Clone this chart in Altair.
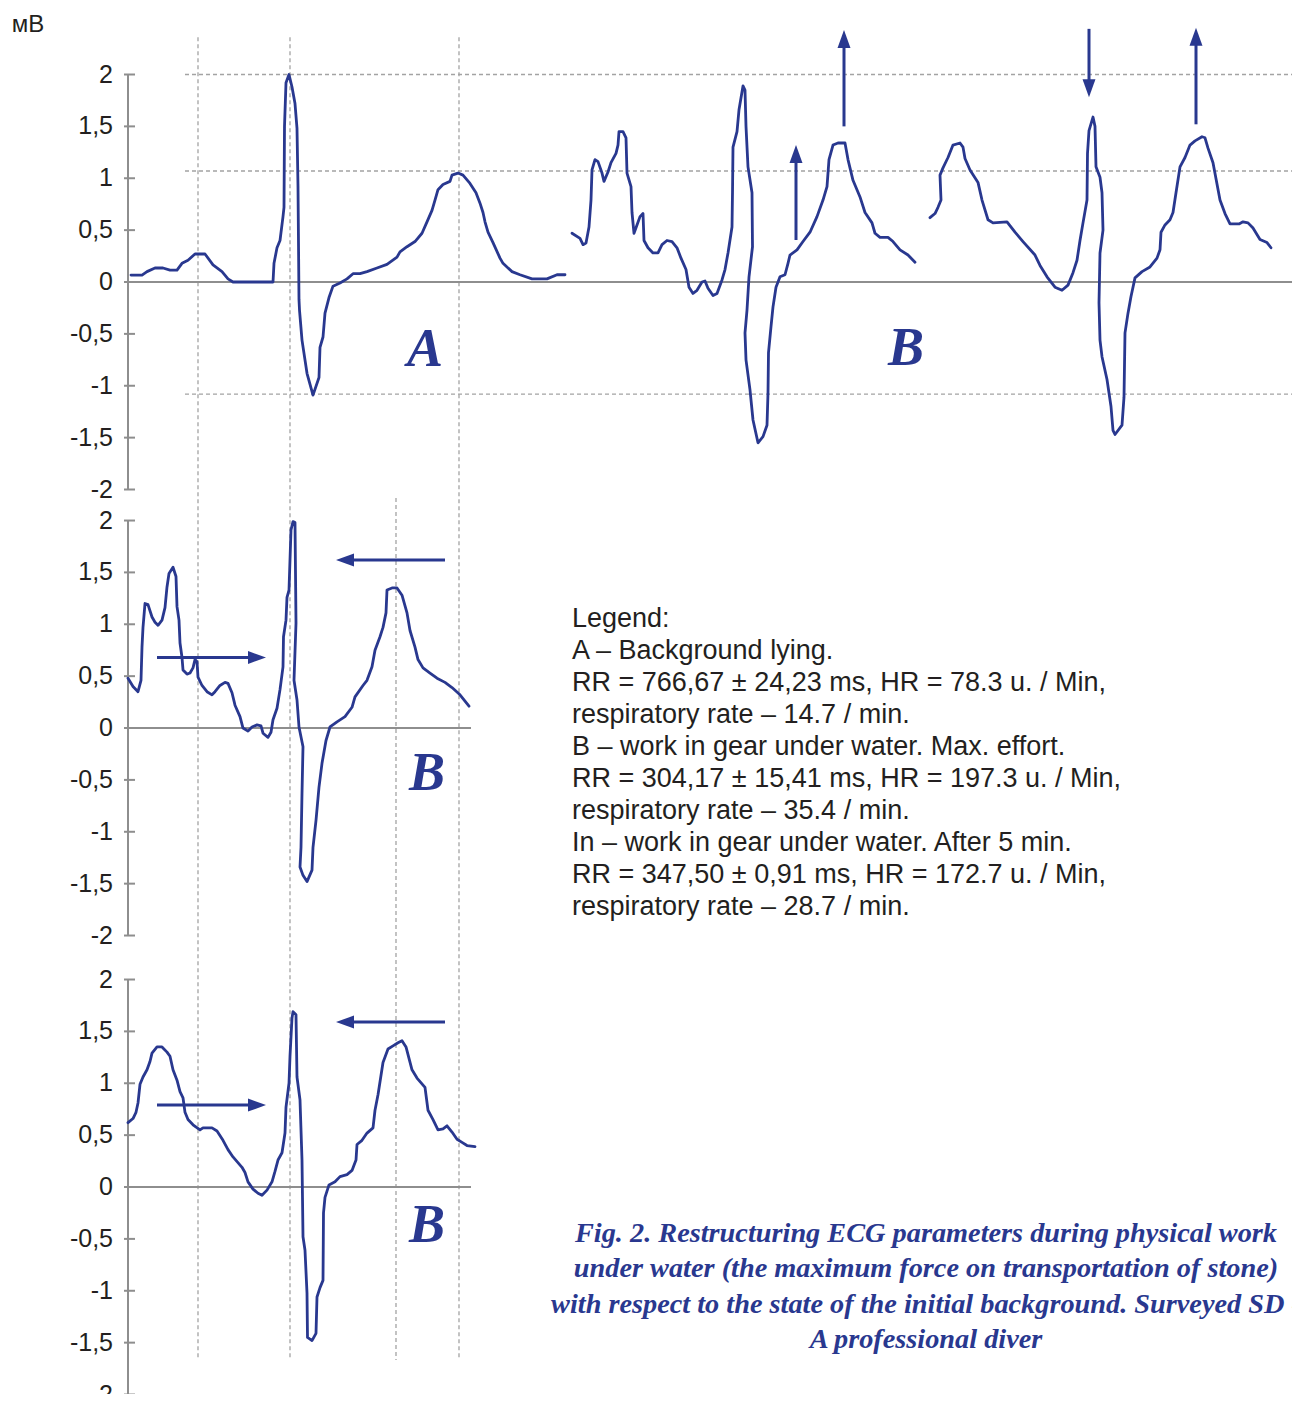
import altair as alt
import pandas as pd

# ---------------- data ----------------
# t = horizontal sample position (arbitrary units), mv = millivolts
A_t = [3, 14, 19, 27, 35, 42, 49, 54, 60, 67, 77, 85, 94, 100, 105, 145, 146, 149, 152, 155, 156,
       156.5, 158, 161, 164, 167, 169, 170, 171, 171.5, 174, 179, 185, 191, 192, 195, 197, 201, 205,
       212, 219, 225, 232, 239, 249, 259, 269, 272, 279, 287, 294, 299, 304, 307, 310, 315, 322, 324,
       330, 335, 342, 348, 352, 355, 357, 360, 365, 372, 375, 384, 392, 404, 419, 429, 437]
A_mv = [0.067, 0.067, 0.10, 0.135, 0.135, 0.115, 0.115, 0.18, 0.21, 0.27, 0.27, 0.165, 0.10, 0.03, 0.0,
        0.0, 0.18, 0.33, 0.40, 0.63, 0.72, 1.50, 1.92, 2.0, 1.88, 1.72, 1.48, 0.92, -0.17, -0.27,
        -0.56, -0.88, -1.09, -0.92, -0.63, -0.53, -0.30, -0.15, -0.04, -0.01, 0.03, 0.08, 0.08, 0.10,
        0.135, 0.17, 0.24, 0.29, 0.34, 0.39, 0.47, 0.58, 0.69, 0.79, 0.89, 0.94, 0.97, 1.03, 1.05,
        1.03, 0.95, 0.86, 0.76, 0.67, 0.58, 0.48, 0.38, 0.23, 0.18, 0.10, 0.07, 0.03, 0.03, 0.07, 0.07]

B1a_t = [444, 452, 455, 458, 461, 463, 464, 467, 470, 474, 476, 480, 483, 488, 490, 491, 495, 498,
         499, 503, 504, 506, 509, 512, 515, 516, 520, 525, 530, 534, 539, 544, 549, 553, 558, 561,
         565, 569, 574, 577, 580, 585, 589, 594, 597, 600, 604, 604.5, 605, 609, 611, 615, 617, 618,
         620, 624, 624.5, 621, 619, 617, 618, 622, 625, 630, 635, 639, 640, 640.5, 643, 645, 648,
         652, 657, 660, 662, 669, 675, 682, 689, 695, 699, 701, 705, 710, 717, 720, 725, 732, 737,
         744, 747, 752, 760, 765, 772, 780, 787]
B1a_mv = [0.47, 0.42, 0.36, 0.375, 0.53, 0.79, 1.08, 1.18, 1.16, 1.05, 0.97, 1.06, 1.15, 1.24, 1.32,
          1.45, 1.45, 1.39, 1.05, 0.92, 0.67, 0.47, 0.55, 0.63, 0.66, 0.40, 0.33, 0.28, 0.28, 0.36,
          0.40, 0.39, 0.33, 0.23, 0.12, -0.05, -0.11, -0.08, 0.0, 0.01, -0.06, -0.13, -0.11, 0.02,
          0.12, 0.28, 0.53, 0.86, 1.30, 1.45, 1.66, 1.89, 1.85, 1.50, 1.11, 0.86, 0.34, 0.05, -0.27,
          -0.49, -0.75, -1.04, -1.33, -1.55, -1.49, -1.38, -1.07, -0.68, -0.43, -0.24, -0.05, 0.05,
          0.07, 0.18, 0.26, 0.31, 0.39, 0.48, 0.63, 0.79, 0.92, 1.18, 1.32, 1.34, 1.34, 1.18, 0.98,
          0.82, 0.67, 0.57, 0.47, 0.43, 0.43, 0.39, 0.31, 0.26, 0.19]

B1b_t = [802, 807, 810, 813, 812, 815, 820, 825, 832, 835, 837, 842, 850, 854, 860, 865, 879, 887,
         895, 907, 912, 919, 927, 934, 940, 945, 949, 952, 955, 959, 959.5, 961, 965, 967, 968, 972,
         974, 975, 972, 971, 972, 974, 979, 983, 985, 987, 994, 996, 997, 1000, 1003, 1007, 1014,
         1022, 1029, 1032, 1033, 1037, 1042, 1045, 1048, 1052, 1057, 1062, 1067, 1074, 1077, 1080,
         1085, 1092, 1097, 1102, 1111, 1115, 1120, 1125, 1132, 1139, 1143]
B1b_mv = [0.62, 0.66, 0.72, 0.79, 1.03, 1.10, 1.20, 1.32, 1.34, 1.30, 1.19, 1.08, 0.96, 0.79, 0.60,
          0.57, 0.58, 0.48, 0.39, 0.26, 0.16, 0.05, -0.05, -0.08, -0.03, 0.09, 0.21, 0.40, 0.57, 0.79,
          1.24, 1.46, 1.59, 1.50, 1.11, 1.01, 0.86, 0.50, 0.28, -0.20, -0.56, -0.72, -0.94, -1.20,
          -1.43, -1.47, -1.38, -1.11, -0.49, -0.30, -0.14, 0.04, 0.10, 0.145, 0.23, 0.31, 0.48, 0.55,
          0.60, 0.67, 0.86, 1.11, 1.20, 1.32, 1.36, 1.40, 1.39, 1.29, 1.15, 0.79, 0.66, 0.56, 0.56,
          0.58, 0.57, 0.52, 0.41, 0.38, 0.33]

B2_t = [0, 5, 10, 13, 14, 15, 17, 20, 24, 27, 30, 34, 37, 39, 41, 45, 48, 49, 51, 52, 54, 55, 59, 62,
        65, 67, 69, 70, 74, 79, 84, 87, 92, 97, 100, 104, 107, 112, 115, 120, 124, 129, 133, 135, 140,
        143, 145, 149, 152, 155, 155.5, 158, 159, 161, 163, 165, 167, 168, 166, 169, 171, 175, 174,
        173, 172, 175, 179, 184, 185, 188, 191, 194, 198, 202, 209, 217, 224, 227, 235, 239, 244,
        247, 252, 255, 258, 259, 264, 269, 274, 279, 282, 287, 290, 295, 302, 309, 317, 324, 332, 341]
B2_mv = [0.48, 0.40, 0.35, 0.46, 0.78, 0.97, 1.20, 1.19, 1.07, 1.02, 0.99, 1.04, 1.16, 1.36, 1.49,
         1.55, 1.46, 1.17, 1.04, 0.82, 0.68, 0.56, 0.52, 0.53, 0.58, 0.66, 0.64, 0.49, 0.41, 0.35,
         0.32, 0.35, 0.41, 0.44, 0.43, 0.34, 0.22, 0.11, 0.0, -0.03, 0.01, 0.03, 0.02, -0.05, -0.09,
         -0.04, 0.08, 0.19, 0.37, 0.59, 0.88, 1.04, 1.26, 1.33, 1.91, 1.99, 1.98, 1.01, 0.46, 0.27,
         0.01, -0.18, -0.63, -1.15, -1.34, -1.42, -1.48, -1.37, -1.15, -0.89, -0.57, -0.34, -0.12,
         0.01, 0.06, 0.11, 0.20, 0.30, 0.41, 0.46, 0.59, 0.75, 0.88, 0.97, 1.11, 1.33, 1.35, 1.35,
         1.28, 1.11, 0.94, 0.78, 0.66, 0.58, 0.53, 0.48, 0.44, 0.39, 0.32, 0.21]

B3_t = [0, 5, 8, 10, 12, 15, 19, 22, 24, 29, 34, 39, 42, 45, 49, 52, 55, 57, 60, 65, 72, 75, 84, 89,
        95, 100, 105, 114, 117, 120, 125, 130, 134, 139, 144, 147, 150, 154, 157, 158, 161, 162, 164,
        165, 168, 169, 172, 174, 175, 177, 179, 179.5, 184, 188, 189, 192, 195, 195.5, 197, 201, 207,
        212, 219, 224, 228, 229, 234, 239, 245, 247, 250, 255, 260, 265, 270, 274, 278, 284, 289,
        297, 300, 305, 310, 315, 319, 324, 329, 334, 339, 347]
B3_mv = [0.62, 0.66, 0.72, 0.81, 0.99, 1.06, 1.13, 1.21, 1.29, 1.35, 1.35, 1.30, 1.26, 1.13, 1.03,
         0.92, 0.86, 0.72, 0.65, 0.60, 0.55, 0.57, 0.57, 0.54, 0.45, 0.36, 0.29, 0.19, 0.14, 0.05,
         -0.02, -0.06, -0.08, -0.03, 0.05, 0.15, 0.26, 0.33, 0.52, 0.77, 1.00, 1.26, 1.63, 1.69, 1.66,
         1.06, 0.84, 0.26, -0.48, -0.61, -1.02, -1.45, -1.48, -1.41, -1.06, -0.97, -0.90, -0.25,
         -0.10, 0.02, 0.05, 0.10, 0.12, 0.16, 0.26, 0.41, 0.45, 0.52, 0.57, 0.74, 0.89, 1.20, 1.33,
         1.36, 1.39, 1.41, 1.35, 1.13, 1.05, 0.96, 0.74, 0.65, 0.55, 0.56, 0.59, 0.53, 0.46, 0.43,
         0.40, 0.39]

TICK_VALUES = [2, 1.5, 1, 0.5, 0, -0.5, -1, -1.5, -2]
TICK_LABELS = ["2", "1,5", "1", "0,5", "0", "-0,5", "-1", "-1,5", "-2"]

# guide lines of panel 1 (mV)
H_GUIDES = [2.0, 1.07, -1.08]
# vertical guide positions (t) spanning all panels / lower panels
V_GUIDES_ALL = [70, 162, 331]
V_GUIDES_LOW = [268]

# arrows: panel, t_start, mv_start, t_tip, mv_tip
ARROWS = [
    (1, 716, 1.50, 716, 2.43),
    (1, 668, 0.405, 668, 1.32),
    (1, 961, 2.44, 961, 1.78),
    (1, 1068, 1.52, 1068, 2.45),
    (2, 317, 1.62, 208, 1.62),
    (2, 29, 0.68, 138, 0.68),
    (3, 317, 1.59, 208, 1.59),
    (3, 29, 0.79, 138, 0.79),
]

# big panel letters: panel, t, mv(baseline), letter
LETTERS = [(1, 297, -0.81, "A"), (1, 778, -0.80, "B"), (2, 299, -0.60, "B"), (3, 299, -0.53, "B")]

LEGEND_LINES = [
    "Legend:",
    "A – Background lying.",
    "RR = 766,67 ± 24,23 ms, HR = 78.3 u. / Min,",
    "respiratory rate – 14.7 / min.",
    "B – work in gear under water. Max. effort.",
    "RR = 304,17 ± 15,41 ms, HR = 197.3 u. / Min,",
    "respiratory rate – 35.4 / min.",
    "In – work in gear under water. After 5 min.",
    "RR = 347,50 ± 0,91 ms, HR = 172.7 u. / Min,",
    "respiratory rate – 28.7 / min.",
]
CAPTION_LINES = [
    "Fig. 2. Restructuring ECG parameters during physical work",
    "under water (the maximum force on transportation of stone)",
    "with respect to the state of the initial background. Surveyed SD -",
    "A professional diver",
]

# ---------------- layout ----------------
OFFSET = {1: 0.0, 2: -4.299, 3: -8.723}   # vertical stacking of the three panels
PANEL_END = {1: 1172, 2: 343, 3: 343}
W, H = 1284, 1386
XDOM = [-120, 1164]
YDOM = [-10.718, 2.641]
BLUE = "#29388f"
GREY = "#8e8e8e"
DASH = "#a3a3a3"

xs = alt.Scale(domain=XDOM, nice=False, zero=False)
ys = alt.Scale(domain=YDOM, nice=False, zero=False)


def X(f):
    return alt.X(f, type="quantitative", scale=xs, axis=None)


def Y(f):
    return alt.Y(f, type="quantitative", scale=ys, axis=None)


# traces
rows = []
for seg, panel, ts, ms in [("A", 1, A_t, A_mv), ("B1a", 1, B1a_t, B1a_mv), ("B1b", 1, B1b_t, B1b_mv),
                           ("B2", 2, B2_t, B2_mv), ("B3", 3, B3_t, B3_mv)]:
    for i, (t, m) in enumerate(zip(ts, ms)):
        rows.append({"seg": seg, "idx": i, "t": t, "g": m + OFFSET[panel]})
traces = pd.DataFrame(rows)

trace_layer = alt.Chart(traces).mark_line(
    color=BLUE, strokeWidth=2.8, strokeJoin="round", strokeCap="round"
).encode(x=X("t"), y=Y("g"), detail="seg:N", order="idx:Q")

# axes
axis_df = pd.DataFrame([{"t": 0, "g1": 2 + OFFSET[p], "g2": -2 + OFFSET[p]} for p in (1, 2, 3)])
axis_layer = alt.Chart(axis_df).mark_rule(color=GREY, strokeWidth=2).encode(
    x=X("t"), y=Y("g1"), y2="g2")

ticks = pd.DataFrame([{"a": -4, "b": 7, "lt": -15, "g": v + OFFSET[p], "label": lab}
                      for p in (1, 2, 3) for v, lab in zip(TICK_VALUES, TICK_LABELS)])
tick_layer = alt.Chart(ticks).mark_rule(color=GREY, strokeWidth=2).encode(
    x=X("a"), x2="b", y=Y("g"))
tick_text = alt.Chart(ticks).mark_text(
    align="right", baseline="middle", font="Liberation Sans", fontSize=25, color="#231f20"
).encode(x=X("lt"), y=Y("g"), text="label:N")

zero_df = pd.DataFrame([{"a": 0, "b": PANEL_END[p], "g": OFFSET[p]} for p in (1, 2, 3)])
zero_layer = alt.Chart(zero_df).mark_rule(color=GREY, strokeWidth=2).encode(
    x=X("a"), x2="b", y=Y("g"))

unit_df = pd.DataFrame([{"t": -100, "g": 2.41, "txt": "мВ"}])
unit_layer = alt.Chart(unit_df).mark_text(
    align="center", baseline="alphabetic", font="Liberation Sans", fontSize=24, color="#231f20"
).encode(x=X("t"), y=Y("g"), text="txt:N")

# dashed guides
hg = pd.DataFrame([{"a": 57, "b": 1172, "g": v} for v in H_GUIDES])
hg_layer = alt.Chart(hg).mark_rule(color=DASH, strokeWidth=1.3, strokeDash=[4, 3]).encode(
    x=X("a"), x2="b", y=Y("g"))
vg = pd.DataFrame([{"t": t, "g1": 2.36, "g2": -1.667 + OFFSET[3]} for t in V_GUIDES_ALL] +
                  [{"t": t, "g1": 2.217 + OFFSET[2], "g2": -1.667 + OFFSET[3]} for t in V_GUIDES_LOW])
vg_layer = alt.Chart(vg).mark_rule(color=DASH, strokeWidth=1.3, strokeDash=[4, 3]).encode(
    x=X("t"), y=Y("g1"), y2="g2")

# arrows
HEAD_T = 16
HEAD_MV = 16 / 103.75
arows = []
for p, t0, m0, t1, m1 in ARROWS:
    if t0 == t1:
        s = 1 if m1 > m0 else -1
        tb, mb = t1, m1 - s * HEAD_MV
        ang = 0 if s > 0 else 180
    else:
        s = 1 if t1 > t0 else -1
        tb, mb = t1 - s * HEAD_T, m1
        ang = 90 if s > 0 else 270
    arows.append({"t0": t0, "g0": m0 + OFFSET[p], "tb": tb, "gb": mb + OFFSET[p],
                  "t1": t1, "g1": m1 + OFFSET[p], "angle": ang})
arr = pd.DataFrame(arows)
arrow_shaft = alt.Chart(arr).mark_rule(color=BLUE, strokeWidth=3).encode(
    x=X("t0"), y=Y("g0"), x2="tb", y2="gb")
arrow_head = alt.Chart(arr).mark_point(
    shape="M0,0L0.72,2L-0.72,2Z", filled=True, size=324, color=BLUE, opacity=1, strokeWidth=0
).encode(x=X("t1"), y=Y("g1"), angle=alt.Angle("angle:Q", scale=None))

# letters
let_df = pd.DataFrame([{"t": t, "g": m + OFFSET[p], "txt": s} for p, t, m, s in LETTERS])
letter_layer = alt.Chart(let_df).mark_text(
    align="center", baseline="alphabetic", font="Liberation Serif", fontSize=54,
    fontStyle="italic", fontWeight="bold", color=BLUE
).encode(x=X("t"), y=Y("g"), text="txt:N")

# legend block
leg_df = pd.DataFrame([{"t": 444, "g": 0.973 + OFFSET[2], "txt": "\n".join(LEGEND_LINES)}])
legend_layer = alt.Chart(leg_df).mark_text(
    align="left", baseline="alphabetic", font="Liberation Sans", fontSize=27, lineBreak="\n",
    lineHeight=32, color="#231f20"
).encode(x=X("t"), y=Y("g"), text="txt:N")

cap_df = pd.DataFrame([{"t": 798, "g": -0.53 + OFFSET[3], "txt": "\n".join(CAPTION_LINES)}])
caption_layer = alt.Chart(cap_df).mark_text(
    align="center", baseline="alphabetic", font="Liberation Serif", fontSize=28.3, lineBreak="\n",
    lineHeight=35.3, fontStyle="italic", fontWeight="bold", color=BLUE
).encode(x=X("t"), y=Y("g"), text="txt:N")

chart = alt.layer(
    vg_layer, hg_layer, zero_layer, axis_layer, tick_layer, tick_text, unit_layer,
    trace_layer, arrow_shaft, arrow_head, letter_layer, legend_layer, caption_layer
).properties(
    width=W, height=H, autosize=alt.AutoSizeParams(type="none"), padding=0
).configure_view(stroke=None)

chart.save("out.html", embed_options={"renderer": "svg", "actions": False})
